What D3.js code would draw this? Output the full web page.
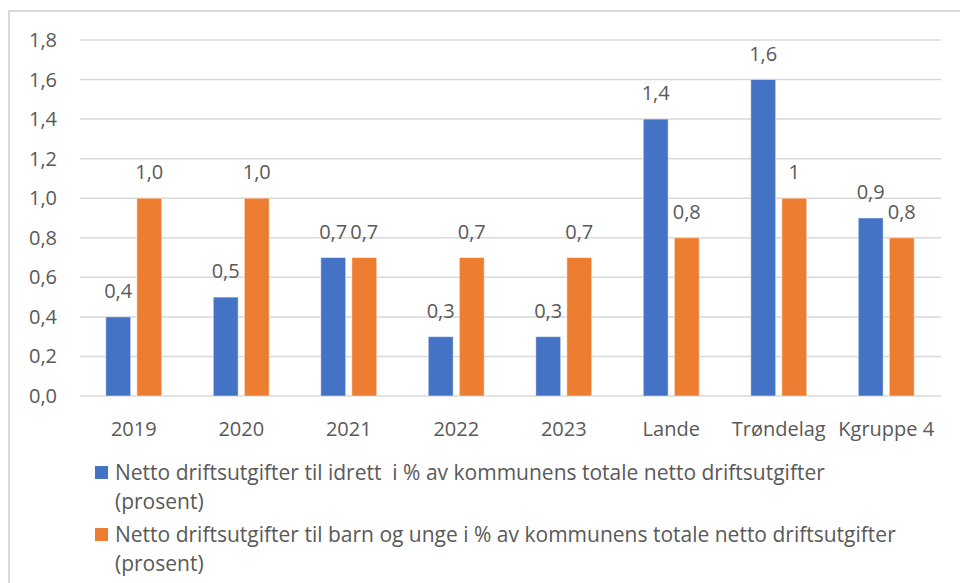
<!DOCTYPE html>
<html>
<head>
<meta charset="utf-8">
<script src="https://cdn.jsdelivr.net/npm/d3@7"></script>
<style>
  body { margin: 0; background: #fff; }
  svg text { font-family: "Open Sans", sans-serif; fill: #595959; }
</style>
</head>
<body>
<svg id="chart" width="960" height="583"></svg>
<script>
var categories = ['2019', '2020', '2021', '2022', '2023', 'Lande', 'Trøndelag', 'Kgruppe 4']
var idrett = [0.4, 0.5, 0.7, 0.3, 0.3, 1.4, 1.6, 0.9]
var barnUnge = [1.0, 1.0, 0.7, 0.7, 0.7, 0.8, 1.0, 0.8]
var idrettLabels = ['0,4', '0,5', '0,7', '0,3', '0,3', '1,4', '1,6', '0,9']
var barnUngeLabels = ['1,0', '1,0', '0,7', '0,7', '0,7', '0,8', '1', '0,8']
var yTicks = [0, 0.2, 0.4, 0.6, 0.8, 1.0, 1.2, 1.4, 1.6, 1.8]
var seriesNames = [
    ['Netto driftsutgifter til idrett  i % av kommunens totale netto driftsutgifter', '(prosent)'],
    ['Netto driftsutgifter til barn og unge i % av kommunens totale netto driftsutgifter', '(prosent)']
]
var colors = ['#4472c4', '#ed7d31']

var svg = d3.select('#chart')

// outer frame
svg.append('rect')
    .attr('x', 9).attr('y', 11)
    .attr('width', 1000).attr('height', 600)
    .attr('fill', 'none')
    .attr('stroke', '#d9d9d9')
    .attr('stroke-width', 2)

var x0 = d3.scaleBand()
    .domain(categories)
    .range([80, 940])
    .paddingInner(0.48)
    .paddingOuter(0.24)

var x1 = d3.scaleBand()
    .domain([0, 1])
    .range([0, x0.bandwidth()])
    .paddingInner(0.2)

var y = d3.scaleLinear()
    .domain([0, 1.8])
    .range([396, 40])

var fmt = (d) => d3.format('.1f')(d).replace('.', ',')

// grid
svg.append('g').selectAll('line')
    .data(yTicks)
    .enter().append('line')
    .attr('x1', 80).attr('x2', 941)
    .attr('y1', (d) => y(d)).attr('y2', (d) => y(d))
    .attr('stroke', '#d9d9d9')
    .attr('stroke-width', 1.5)

svg.append('g').selectAll('text')
    .data(yTicks)
    .enter().append('text')
    .attr('x', 57)
    .attr('y', (d) => y(d))
    .attr('dy', '0.35em')
    .attr('text-anchor', 'end')
    .style('font-size', '20px')
    .text(fmt)

var series = [idrett, barnUnge]
var labels = [idrettLabels, barnUngeLabels]

series.forEach(function (vals, s) {
    var g = svg.append('g')
    g.selectAll('rect')
        .data(vals)
        .enter().append('rect')
        .attr('x', (d, i) => x0(categories[i]) + x1(s))
        .attr('y', (d) => y(d))
        .attr('width', x1.bandwidth())
        .attr('height', (d) => y(0) - y(d))
        .attr('fill', colors[s])
        .attr('stroke', 'rgba(255,255,255,0.45)')
        .attr('stroke-width', 1)

    g.selectAll('text')
        .data(vals)
        .enter().append('text')
        .attr('x', (d, i) => x0(categories[i]) + x1(s) + x1.bandwidth() / 2)
        .attr('y', (d) => y(d) - 19)
        .attr('text-anchor', 'middle')
        .style('font-size', '20px')
        .text((d, i) => labels[s][i])
})

// category labels
svg.append('g').selectAll('text')
    .data(categories)
    .enter().append('text')
    .attr('x', (d) => x0(d) + x0.bandwidth() / 2)
    .attr('y', 436)
    .attr('text-anchor', 'middle')
    .style('font-size', '20px')
    .text((d) => d)

// legend
var legendTop = [480, 542]
seriesNames.forEach(function (lines, s) {
    var lg = svg.append('g')
    lg.append('rect')
        .attr('x', 95).attr('y', legendTop[s] - 14)
        .attr('width', 13).attr('height', 13)
        .attr('fill', colors[s])
    lines.forEach(function (t, k) {
        lg.append('text')
            .attr('x', 115)
            .attr('y', legendTop[s] + k * 29)
            .style('font-size', '21px')
            .style('white-space', 'pre')
            .text(t)
    })
})
</script>
</body>
</html>
